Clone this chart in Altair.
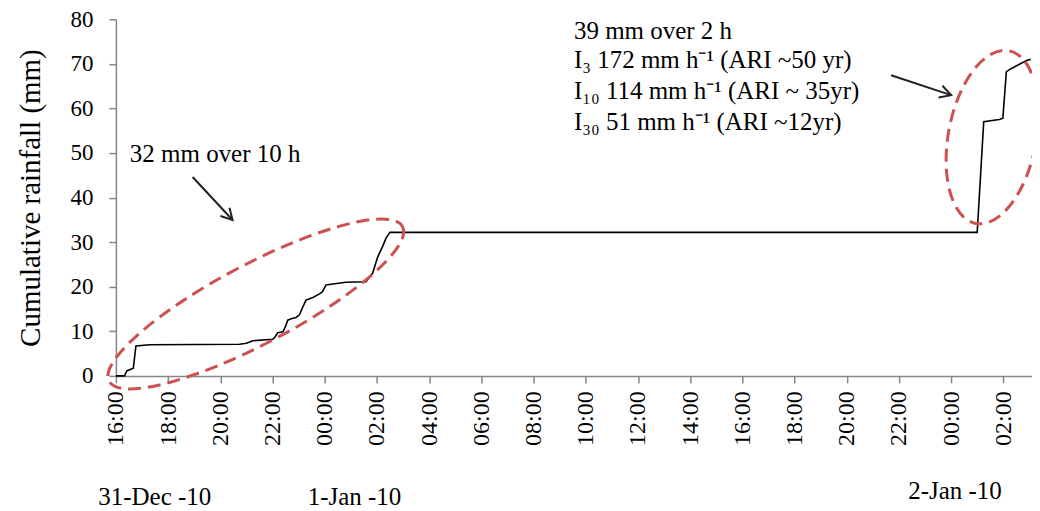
import altair as alt
import pandas as pd

START = "2010-12-31 16:00"

times = [
    "2010-12-31 16:00", "2010-12-31 16:20", "2010-12-31 16:25", "2010-12-31 16:40",
    "2010-12-31 16:46", "2010-12-31 17:18", "2010-12-31 20:44", "2010-12-31 21:00",
    "2010-12-31 21:15", "2010-12-31 22:01", "2010-12-31 22:06", "2010-12-31 22:12",
    "2010-12-31 22:24", "2010-12-31 22:30", "2010-12-31 22:35", "2010-12-31 22:43",
    "2010-12-31 22:54", "2010-12-31 23:02", "2010-12-31 23:10", "2010-12-31 23:17",
    "2010-12-31 23:33", "2010-12-31 23:48", "2010-12-31 23:55", "2011-01-01 00:03",
    "2011-01-01 00:19", "2011-01-01 00:49", "2011-01-01 01:35", "2011-01-01 01:50",
    "2011-01-01 02:02", "2011-01-01 02:13", "2011-01-01 02:21", "2011-01-01 02:30",
    "2011-01-02 01:00", "2011-01-02 01:15", "2011-01-02 01:51", "2011-01-02 01:59",
    "2011-01-02 02:07", "2011-01-02 02:14", "2011-01-02 02:37", "2011-01-02 02:55",
    "2011-01-02 03:03",
]
rain = [
    0.0, 0.0, 1.1, 1.7,
    6.7, 7.0, 7.1, 7.3,
    7.9, 8.2, 8.8, 9.7,
    9.9, 11.1, 12.5, 12.8,
    13.1, 13.7, 15.5, 17.0,
    17.6, 18.4, 18.9, 20.4,
    20.6, 21.0, 21.1, 23.0,
    26.7, 29.0, 30.9, 32.2,
    32.2, 57.0, 57.5, 57.8,
    68.2, 68.7, 69.9, 70.8,
    71.0,
]

x_tick_hours = list(range(0, 35, 2))
y_ticks = list(range(0, 81, 10))

note_labels = ["32 mm over 10 h", "39 mm over 2 h", "I\u2083 172 mm h\u207b\u00b9 (ARI ~50 yr)",
               "I\u2081\u2080 114 mm h\u207b\u00b9 (ARI ~ 35yr)", "I\u2083\u2080 51 mm h\u207b\u00b9  (ARI ~12yr)"]
note_h = [0.535, 17.55, 17.55, 17.55, 17.55]
note_v = [47.96, 75.66, 68.97, 62.0, 55.1]

date_labels = ["31-Dec -10", "1-Jan -10", "2-Jan -10"]
date_h = [1.49, 9.14, 32.15]
date_v = [-28.9, -29.0, -27.6]

arrow_h = [2.94, 29.70]
arrow_v = [44.6, 67.45]
arrow_h2 = [4.47, 32.0]
arrow_v2 = [34.96, 62.97]
arrow_angle = [47.1, 18.4]

ell_h = [5.36, 33.58]
ell_v = [16.13, 53.56]

hours = (pd.to_datetime(pd.Series(times)) - pd.Timestamp(START)).dt.total_seconds() / 3600
df = pd.DataFrame({"h": hours, "rain": rain})
notes = pd.DataFrame({"label": note_labels, "h": note_h, "v": note_v})
dates = pd.DataFrame({"label": date_labels, "h": date_h, "v": date_v})
arrows = pd.DataFrame({"h": arrow_h, "v": arrow_v, "h2": arrow_h2, "v2": arrow_v2, "ang": arrow_angle})
ell1 = pd.DataFrame({"h": ell_h[:1], "v": ell_v[:1]})
ell2 = pd.DataFrame({"h": ell_h[1:], "v": ell_v[1:]})

FONT = "Liberation Serif"
AX = "#868686"
RED = "#CC5252"

xscale = alt.Scale(domain=[0, 35.1], nice=False, zero=False)
yscale = alt.Scale(domain=[0, 80], nice=False)

def ellipse_path(rx, ry):
    k = 0.5523
    return (f"M{rx},0 C{rx},{k*ry} {k*rx},{ry} 0,{ry} "
            f"C{-k*rx},{ry} {-rx},{k*ry} {-rx},0 "
            f"C{-rx},{-k*ry} {-k*rx},{-ry} 0,{-ry} "
            f"C{k*rx},{-ry} {rx},{-k*ry} {rx},0 Z")

line = alt.Chart(df).mark_line(color="black", strokeWidth=1.6).encode(
    x=alt.X("h:Q", scale=xscale, axis=alt.Axis(
        values=x_tick_hours,
        labelExpr="format((16 + datum.value) % 24, '02d') + ':00'",
        labelAngle=270, labelFontSize=24, labelFont=FONT, labelColor="black",
        tickSize=7, tickColor=AX, domainColor=AX, domainWidth=1.5, tickWidth=1.5,
        grid=False, title=None, labelPadding=8)),
    y=alt.Y("rain:Q", scale=yscale, axis=alt.Axis(
        values=y_ticks, labelFontSize=23, labelFont=FONT, labelColor="black",
        tickSize=7, tickColor=AX, domainColor=AX, domainWidth=1.5, tickWidth=1.5,
        grid=False, labelPadding=16,
        title="Cumulative rainfall (mm)", titleFont=FONT, titleFontSize=29,
        titleFontWeight="normal", titleColor="black", titlePadding=24)),
)

note_text = alt.Chart(notes).mark_text(
    align="left", baseline="alphabetic", font=FONT, fontSize=25, color="black"
).encode(x=alt.X("h:Q", scale=xscale), y=alt.Y("v:Q", scale=yscale), text="label:N")

date_text = alt.Chart(dates).mark_text(
    align="center", baseline="alphabetic", font=FONT, fontSize=25, color="black"
).encode(x=alt.X("h:Q", scale=xscale), y=alt.Y("v:Q", scale=yscale), text="label:N")

arrow_lines = alt.Chart(arrows).mark_rule(color="#222222", strokeWidth=2).encode(
    x=alt.X("h:Q", scale=xscale), y=alt.Y("v:Q", scale=yscale), x2="h2:Q", y2="v2:Q")

arrow_heads = alt.Chart(arrows).mark_point(
    shape="M-1,-0.55 L0,0 L-1,0.55", filled=False, stroke="#222222", strokeWidth=2,
    size=500, opacity=1
).encode(x=alt.X("h2:Q", scale=xscale), y=alt.Y("v2:Q", scale=yscale),
         angle=alt.Angle("ang:Q", scale=None))

ellipse1 = alt.Chart(ell1).mark_point(
    shape=ellipse_path(1, 0.24), filled=False, stroke=RED, strokeWidth=3,
    strokeDash=[13, 7], size=4 * 166 * 166, angle=332.2, opacity=1
).encode(x=alt.X("h:Q", scale=xscale), y=alt.Y("v:Q", scale=yscale))

ellipse2 = alt.Chart(ell2).mark_point(
    shape=ellipse_path(0.5, 1), filled=False, stroke=RED, strokeWidth=3,
    strokeDash=[13, 7], size=4 * 88 * 88, angle=10.8, opacity=1
).encode(x=alt.X("h:Q", scale=xscale), y=alt.Y("v:Q", scale=yscale))

chart = alt.layer(
    line, ellipse1, ellipse2, arrow_lines, arrow_heads, note_text, date_text
).properties(
    width=917, height=357,
    autosize=alt.AutoSizeParams(type="none"),
    padding={"left": 108, "top": 11, "right": 0, "bottom": 135},
).configure_view(stroke=None)

chart.save("out.html", embed_options={"renderer": "svg", "actions": False})
